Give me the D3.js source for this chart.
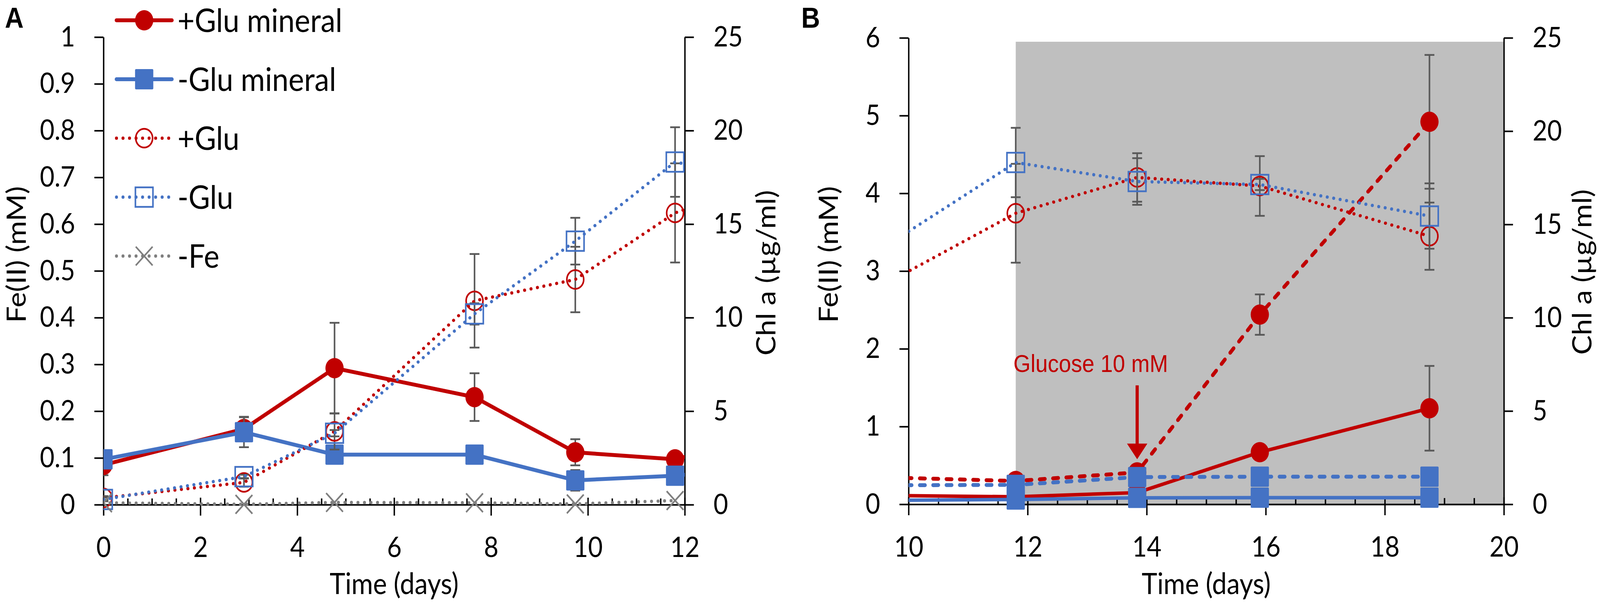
<!DOCTYPE html>
<html>
<head>
<meta charset="utf-8">
<script src="https://cdn.jsdelivr.net/npm/d3@7"></script>
<style>
  html, body { margin: 0; padding: 0; background: #fff; overflow: hidden; }
  #chart { display: block; width: 100vw; height: 100vh; }
  svg text { font-family: Lato, "Open Sans", sans-serif; fill: #000; }
</style>
</head>
<body>
<!-- drawn in 4561x1550 units and stretched onto whatever viewport we get -->
<svg id="chart" viewBox="0 0 4561 1550" preserveAspectRatio="none"></svg>
<script>
// ---------------------------------------------------------------
// Data
// ---------------------------------------------------------------
const days = [0, 2.9, 4.77, 7.66, 9.74, 11.8, 13.84, 15.9, 18.75];

// Fe(II) in mM, primary axis
const feGluMineral      = [0.085, 0.162, 0.292, 0.230, 0.112, 0.097, 0.150, 0.670, 1.235];
const feGluMineralErr   = [0.022, 0.026, 0.097, 0.051, 0.028, 0.012, 0.020, 0.030, 0.545];
const feNoGluMineral    = [0.097, 0.155, 0.107, 0.107, 0.052, 0.062, 0.083, 0.085, 0.085];
const feNoGluMineralErr = [0.010, 0.032, 0.011, 0.010, 0.022, 0.010, 0.010, 0.010, 0.010];

// dashed series, only shown in panel B
const feGluDashed       = [null, null, null, null, 0.343, 0.300, 0.410, 2.440, 4.920];
const feGluDashedErr    = [null, null, null, null, 0.020, 0.020, 0.020, 0.260, 0.860];
const feNoGluDashed     = [null, null, null, null, 0.245, 0.250, 0.350, 0.355, 0.355];
const feNoGluDashedErr  = [null, null, null, null, 0.010, 0.010, 0.010, 0.010, 0.010];

// Chl a in µg/ml, secondary axis
const chlGlu      = [0.36, 1.19, 3.92, 10.90, 12.04, 15.60, 17.52, 17.06, 14.37];
const chlGluErr   = [0.10, 0.23, 0.97, 2.50, 1.75, 2.65, 1.30, 1.60, 1.80];
const chlNoGlu    = [0.28, 1.50, 3.82, 10.20, 14.09, 18.32, 17.30, 17.14, 15.45];
const chlNoGluErr = [0.10, 0.10, 0.17, 0.57, 1.25, 1.86, 1.25, 0.30, 1.75];
const chlNoFe     = [0.10, 0.02, 0.12, 0.10, 0.04, 0.22];

// shaded (dark) period in panel B and the glucose pulse
const darkPeriod = [11.8, 20];
const darkTop = 5.95;
const glucoseDay = 13.84;

const feTicksA  = d3.range(0, 11).map(i => i / 10);
const feTicksB  = [0, 1, 2, 3, 4, 5, 6];
const chlTicks  = [0, 5, 10, 15, 20, 25];
const dayTicksA = [0, 2, 4, 6, 8, 10, 12];
const dayTicksB = [10, 12, 14, 16, 18, 20];

// ---------------------------------------------------------------
// Look
// ---------------------------------------------------------------
const RED = '#c00000', BLUE = '#4472c4', GRAY = '#7f7f7f', ERR = '#595959';
const TICK_FONT = 72, TITLE_FONT = 75, LEGEND_FONT = 84;

const svg = d3.select('#chart');
svg.append('rect').attr('width', 4561).attr('height', 1550).attr('fill', '#fff');

const panels = {
  A: {
    x: d3.scaleLinear().domain([0, 12]).range([295, 1952]),
    y: d3.scaleLinear().domain([0, 1]).range([1293, 95]),
    y2: d3.scaleLinear().domain([0, 25]).range([1293, 95]),
    feTicks: feTicksA, dayTicks: dayTicksA, solidWidth: 10,
    feTitleX: 74, chlTitleX: 2210, chlTitleY: 699, letterX: 14
  },
  B: {
    x: d3.scaleLinear().domain([10, 20]).range([2590, 4287]),
    y: d3.scaleLinear().domain([0, 6]).range([1292, 97]),
    y2: d3.scaleLinear().domain([0, 25]).range([1292, 97]),
    feTicks: feTicksB, dayTicks: dayTicksB, solidWidth: 9,
    feTitleX: 2388, chlTitleX: 4536, chlTitleY: 697, letterX: 2284
  }
};

const lineStyles = {
  solid:  { dash: null, cap: 'round' },
  dotted: { dash: '0.1 18.5', cap: 'round', width: 8.5 },
  dashed: { dash: '15 23', cap: 'round', width: 10 }
};

// one entry per plotted series
const seriesA = [
  { name: '+Glu mineral', v: feGluMineral,   e: feGluMineralErr,   axis: 'y',  color: RED,  line: 'solid',  marker: 'circle' },
  { name: '-Glu mineral', v: feNoGluMineral, e: feNoGluMineralErr, axis: 'y',  color: BLUE, line: 'solid',  marker: 'square' },
  { name: '+Glu',         v: chlGlu,         e: chlGluErr,         axis: 'y2', color: RED,  line: 'dotted', marker: 'circleOpen' },
  { name: '-Glu',         v: chlNoGlu,       e: chlNoGluErr,       axis: 'y2', color: BLUE, line: 'dotted', marker: 'squareOpen' },
  { name: '-Fe',          v: chlNoFe,        e: null,              axis: 'y2', color: GRAY, line: 'dotted', marker: 'cross' }
];
const seriesB = [
  seriesA[0], seriesA[1],
  { name: '+Glu mineral 10 mM', v: feGluDashed,   e: feGluDashedErr,   axis: 'y', color: RED,  line: 'dashed', marker: 'circle' },
  { name: '-Glu mineral 10 mM', v: feNoGluDashed, e: feNoGluDashedErr, axis: 'y', color: BLUE, line: 'dashed', marker: 'square' },
  seriesA[2], seriesA[3]
];

// ---------------------------------------------------------------
// Helpers
// ---------------------------------------------------------------
function drawMarkers(g, pts, type, color) {
  if (type === 'circle') {
    g.selectAll(null).data(pts).enter().append('circle')
      .attr('cx', d => d.px).attr('cy', d => d.py).attr('r', 26).attr('fill', color);
  } else if (type === 'square') {
    g.selectAll(null).data(pts).enter().append('rect')
      .attr('x', d => d.px - 26).attr('y', d => d.py - 26)
      .attr('width', 52).attr('height', 52).attr('rx', 3).attr('fill', color);
  } else if (type === 'circleOpen') {
    g.selectAll(null).data(pts).enter().append('circle')
      .attr('cx', d => d.px).attr('cy', d => d.py).attr('r', 24)
      .attr('fill', 'none').attr('stroke', color).attr('stroke-width', 4.5);
  } else if (type === 'squareOpen') {
    g.selectAll(null).data(pts).enter().append('rect')
      .attr('x', d => d.px - 25).attr('y', d => d.py - 25)
      .attr('width', 50).attr('height', 50)
      .attr('fill', 'none').attr('stroke', color).attr('stroke-width', 4.5);
  } else if (type === 'cross') {
    g.selectAll(null).data(pts).enter().append('path')
      .attr('d', d => `M${d.px - 24},${d.py - 24}L${d.px + 24},${d.py + 24}M${d.px + 24},${d.py - 24}L${d.px - 24},${d.py + 24}`)
      .attr('stroke', color).attr('stroke-width', 4.5).attr('fill', 'none');
  }
}

function applyLineStyle(sel, type, color, solidWidth) {
  const st = lineStyles[type];
  sel.attr('fill', 'none')
    .attr('stroke', color)
    .attr('stroke-width', st.width || solidWidth)
    .attr('stroke-linecap', st.cap)
    .attr('stroke-linejoin', 'round')
    .attr('stroke-dasharray', st.dash);
}

function drawSeries(g, p, s) {
  const yScale = p[s.axis];
  const pts = s.v.map((v, i) => ({ t: days[i], v: v, e: s.e ? s.e[i] : null }))
    .filter(d => d.v != null)
    .map(d => Object.assign(d, { px: p.x(d.t), py: yScale(d.v) }));

  const sg = g.append('g').attr('class', 'series');

  // error bars under the markers
  const withErr = pts.filter(d => d.e);
  const eb = sg.append('g').attr('stroke', ERR).attr('stroke-width', 4.5);
  eb.selectAll(null).data(withErr).enter().append('line')
    .attr('x1', d => d.px).attr('x2', d => d.px)
    .attr('y1', d => yScale(d.v + d.e)).attr('y2', d => yScale(d.v - d.e));
  eb.selectAll(null).data(withErr).enter().append('path')
    .attr('d', d => `M${d.px - 14},${yScale(d.v + d.e)}H${d.px + 14}M${d.px - 14},${yScale(d.v - d.e)}H${d.px + 14}`);

  const line = d3.line().x(d => d.px).y(d => d.py);
  sg.append('path').datum(pts).attr('d', line)
    .call(applyLineStyle, s.line, s.color, p.solidWidth);

  drawMarkers(sg, pts, s.marker, s.color);
}

function styleAxis(g, fontSize) {
  g.attr('font-family', null).attr('font-size', null);
  g.select('.domain').attr('stroke', '#000').attr('stroke-width', 4);
  g.selectAll('.tick line').attr('stroke', '#000').attr('stroke-width', 4);
  g.selectAll('.tick text').style('font-size', fontSize + 'px').attr('fill', '#000');
}

// ---------------------------------------------------------------
// Panels
// ---------------------------------------------------------------
function drawPanel(key, series) {
  const p = panels[key];
  const [x0, x1] = p.x.range();
  const yBase = p.y(0);

  const root = svg.append('g').attr('class', 'panel-' + key);

  // dark period shading (panel B)
  if (key === 'B') {
    root.append('rect')
      .attr('x', p.x(darkPeriod[0])).attr('y', p.y(darkTop))
      .attr('width', p.x(darkPeriod[1]) - p.x(darkPeriod[0]))
      .attr('height', yBase - p.y(darkTop) + 3)
      .attr('fill', '#bfbfbf');
  }

  // minor day ticks (inside)
  const minor = d3.range(p.x.domain()[0], p.x.domain()[1] + 0.01, 0.5)
    .filter(d => d % 2 !== 0);
  root.append('g')
    .attr('transform', `translate(0,${yBase})`)
    .call(d3.axisBottom(p.x).tickValues(minor).tickSize(-16).tickFormat(''))
    .call(g => g.select('.domain').remove())
    .selectAll('line').attr('stroke', '#000').attr('stroke-width', 4);

  // x axis, major ticks cross the axis line
  root.append('g')
    .attr('transform', `translate(0,${yBase})`)
    .call(d3.axisBottom(p.x).tickValues(p.dayTicks).tickSize(28).tickSizeOuter(0).tickPadding(55))
    .call(styleAxis, TICK_FONT)
    .call(g => g.selectAll('.tick line').attr('y1', -18));

  // left axis, Fe(II)
  root.append('g')
    .attr('transform', `translate(${x0},0)`)
    .call(d3.axisLeft(p.y).tickValues(p.feTicks).tickSize(26).tickSizeOuter(0)
      .tickPadding(55).tickFormat(d3.format('.1~f')))
    .call(styleAxis, TICK_FONT);

  // right axis, Chl a
  root.append('g')
    .attr('transform', `translate(${x1},0)`)
    .call(d3.axisRight(p.y2).tickValues(chlTicks).tickSize(26).tickSizeOuter(0).tickPadding(56))
    .call(styleAxis, TICK_FONT);

  // data, clipped to the x-range of the panel
  root.append('clipPath').attr('id', 'clip-' + key)
    .append('rect').attr('x', x0).attr('y', 0).attr('width', x1 - x0).attr('height', 1550);
  const plot = root.append('g').attr('clip-path', `url(#clip-${key})`);
  series.forEach(s => drawSeries(plot, p, s));

  // axis titles
  root.append('text')
    .attr('transform', `translate(${p.feTitleX},652) rotate(-90)`)
    .attr('text-anchor', 'middle').style('font-size', TITLE_FONT + 'px')
    .text('Fe(II) (mM)');
  root.append('text')
    .attr('transform', `translate(${p.chlTitleX},${p.chlTitleY}) rotate(-90)`)
    .attr('text-anchor', 'middle').style('font-size', TITLE_FONT + 'px')
    .text('Chl a (µg/ml)');
  root.append('text')
    .attr('x', (x0 + x1) / 2).attr('y', 1522)
    .attr('text-anchor', 'middle').style('font-size', TITLE_FONT + 'px')
    .text('Time (days)');

  // panel letter
  root.append('text')
    .attr('x', p.letterX).attr('y', 71)
    .style('font-family', '"Liberation Sans", Arial, sans-serif')
    .style('font-weight', 'bold').style('font-size', '74px')
    .text(key);

  return { p, root };
}

drawPanel('A', seriesA);
const panelB = drawPanel('B', seriesB);

// glucose pulse annotation
{
  const { p, root } = panelB;
  const ax = p.x(glucoseDay);
  const tipY = p.y(0.58);
  const ann = root.append('g').attr('class', 'annotation');
  ann.append('line')
    .attr('x1', ax).attr('x2', ax)
    .attr('y1', p.y(1.53)).attr('y2', tipY - 36)
    .attr('stroke', RED).attr('stroke-width', 9);
  ann.append('path')
    .attr('d', `M${ax - 29},${tipY - 40}L${ax + 29},${tipY - 40}L${ax},${tipY}Z`)
    .attr('fill', RED);
  ann.append('text')
    .attr('x', p.x(11.76)).attr('y', p.y(1.70))
    .style('font-family', '"Liberation Sans", Arial, sans-serif')
    .style('font-size', '63px').style('fill', RED)
    .text('Glucose 10 mM');
}

// ---------------------------------------------------------------
// Legend (panel A, top left)
// ---------------------------------------------------------------
{
  const legend = svg.append('g').attr('class', 'legend');
  seriesA.forEach((s, i) => {
    const y = 52 + i * 151;
    const row = legend.append('g');
    row.append('path').attr('d', `M332,${y}H490`)
      .call(applyLineStyle, s.line, s.color, 10);
    drawMarkers(row, [{ px: 411, py: y }], s.marker, s.color);
    row.append('text')
      .attr('x', 506).attr('y', y).attr('dy', '0.36em')
      .style('font-size', LEGEND_FONT + 'px')
      .text(s.name);
  });
}
</script>
</body>
</html>
